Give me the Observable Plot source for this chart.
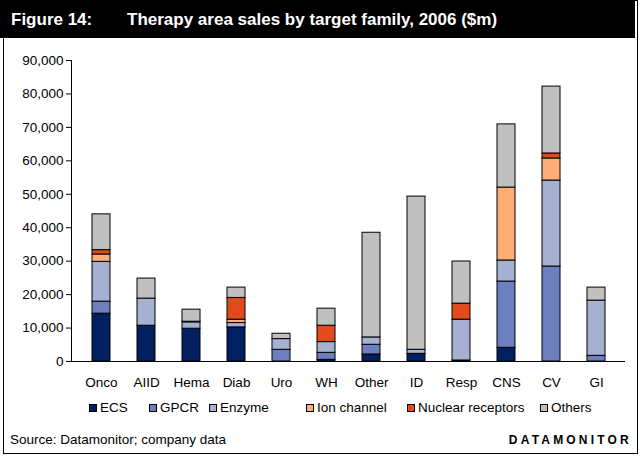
<!DOCTYPE html>
<html>
<head>
<meta charset="utf-8">
<script src="https://cdn.jsdelivr.net/npm/d3@7"></script>
<script src="https://cdn.jsdelivr.net/npm/@observablehq/plot@0.6"></script>
<style>
  html, body { margin: 0; padding: 0; background: #fff; }
  #wrap { position: relative; width: 640px; height: 457px; overflow: hidden; font-family: "Liberation Sans", Arial, sans-serif; }
  #box { position: absolute; left: 3px; top: 0; width: 633px; height: 452px; border: 1px solid #000; box-sizing: content-box; }
  #band { position: absolute; left: 0; top: 0; width: 635px; height: 38px; background: #000; }
  .title { position: absolute; top: 10px; color: #fff; font-weight: bold; font-size: 17px; white-space: nowrap; }
  #chart { position: absolute; left: 0; top: 40px; }
  .leg { position: absolute; top: 400px; font-size: 13.5px; white-space: nowrap; display: flex; align-items: center; }
  .sw { width: 6px; height: 6px; border: 1px solid #000; margin-right: 3px; }
  #source { position: absolute; left: 10px; top: 432px; font-size: 13.5px; }
  #brand { position: absolute; right: 8px; top: 433px; font-size: 12px; font-weight: bold; letter-spacing: 3.2px; }
</style>
</head>
<body>
<div id="wrap">
  <div id="box"></div>
  <div id="band"></div>
  <div class="title" style="left:11px">Figure 14:</div>
  <div class="title" style="left:127px">Therapy area sales by target family, 2006 ($m)</div>
  <div id="chart"></div>
  <div id="legend"></div>
  <div id="source">Source: Datamonitor; company data</div>
  <div id="brand">DATAMONITOR</div>
</div>
<script>
const areas = ["Onco","AIID","Hema","Diab","Uro","WH","Other","ID","Resp","CNS","CV","GI"];
const families = ["ECS","GPCR","Enzyme","Ion channel","Nuclear receptors","Others"];
const ecs        = [14300,10700, 9800,10200,   0,  500, 2100, 2300,  300, 4100,    0,    0];
const gpcr       = [ 3600,    0,    0,    0,3500, 2100, 2900,    0,    0,19800,28400, 1700];
const enzyme     = [11900, 8100, 1900, 1300,3200, 3200, 2200, 1200,12200, 6300,25700,16500];
const ionChannel = [ 2200,    0,    0, 1000,   0,    0,    0,    0,    0,21800, 6600,    0];
const nuclear    = [ 1300,    0,  200, 6500,   0, 4900,    0,    0, 4800,    0, 1500,    0];
const others     = [10700, 6000, 3600, 3100,1600, 5100,31300,45800,12600,18900,20000, 3900];
const yTicks = [0,10000,20000,30000,40000,50000,60000,70000,80000,90000];

const colors = ["#002060","#6C80C0","#A6B0D2","#FFAE78","#E04A1C","#C0C0C0"];
const legendX = [89,149,209,306,407,540];

const series = [ecs, gpcr, enzyme, ionChannel, nuclear, others];
const data = [];
families.forEach((f, j) => {
  areas.forEach((a, i) => {
    if (series[j][i] > 0) data.push({area: a, family: f, value: series[j][i]});
  });
});

const plot = Plot.plot({
  width: 640,
  height: 360,
  marginLeft: 71,
  marginRight: 15,
  marginTop: 20,
  marginBottom: 39,
  style: {fontFamily: "'Liberation Sans', Arial, sans-serif", fontSize: "13.5px", color: "#000", background: "transparent"},
  x: {domain: areas, paddingInner: 0.6, paddingOuter: 0.36, label: null},
  y: {domain: [0, 90000], label: null},
  color: {domain: families, range: colors},
  marks: [
    Plot.barY(data, {x: "area", y: "value", fill: "family", stroke: "#000", strokeWidth: 1, order: families}),
    Plot.axisY({ticks: yTicks, tickFormat: d3.format(","), tickSize: 5, tickPadding: 3, label: null}),
    Plot.axisX({tickSize: 0, tickPadding: 16, label: null}),
    Plot.frame({anchor: "left", stroke: "#000"}),
    Plot.ruleY([0], {stroke: "#000"})
  ]
});
document.getElementById("chart").appendChild(plot);

const legend = document.getElementById("legend");
families.forEach((f, j) => {
  const item = document.createElement("div");
  item.className = "leg";
  item.style.left = legendX[j] + "px";
  const sw = document.createElement("div");
  sw.className = "sw";
  sw.style.background = colors[j];
  item.appendChild(sw);
  const t = document.createElement("span");
  t.textContent = f;
  item.appendChild(t);
  legend.appendChild(item);
});
</script>
</body>
</html>
